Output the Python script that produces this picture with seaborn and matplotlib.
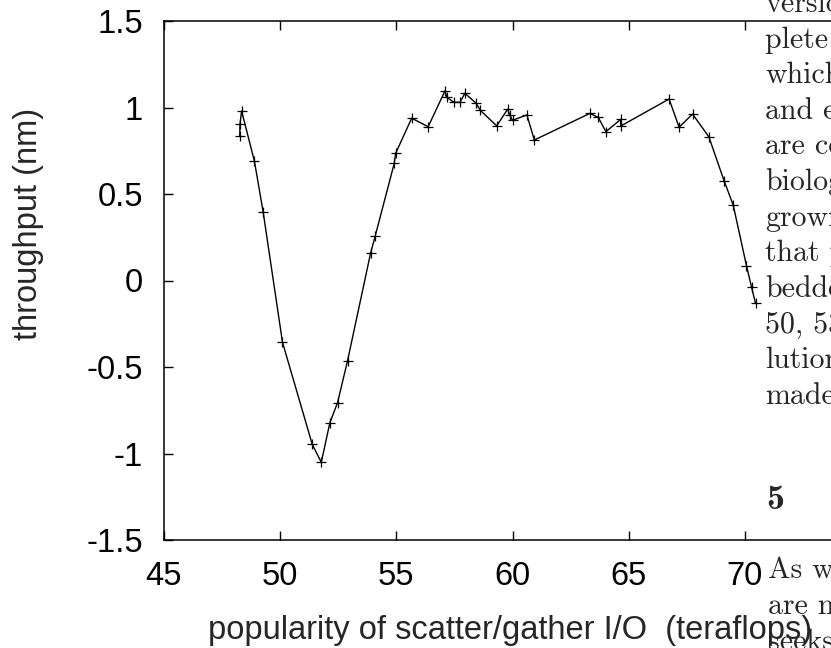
import pandas as pd
import matplotlib
matplotlib.use('Agg')
import matplotlib.pyplot as plt
import seaborn as sns

# values
popularity = [48.26, 48.27, 48.34, 48.89, 49.27, 50.10, 51.38, 51.77, 52.14, 52.47,
              52.90, 53.89, 54.09, 54.91, 54.97, 55.66, 56.37, 57.09, 57.18, 57.48,
              57.74, 57.95, 58.44, 58.61, 59.32, 59.79, 59.88, 60.00, 60.62, 60.94,
              63.33, 63.69, 64.02, 64.66, 64.66, 66.74, 67.17, 67.75, 68.45, 69.11,
              69.50, 70.07, 70.29, 70.46]
throughput = [0.835, 0.903, 0.980, 0.691, 0.394, -0.357, -0.947, -1.051, -0.822, -0.706,
              -0.464, 0.157, 0.257, 0.677, 0.735, 0.938, 0.889, 1.095, 1.058, 1.030,
              1.030, 1.082, 1.024, 0.984, 0.894, 0.990, 0.957, 0.926, 0.957, 0.812,
              0.966, 0.943, 0.860, 0.932, 0.893, 1.049, 0.886, 0.962, 0.831, 0.575,
              0.436, 0.086, -0.039, -0.132]

x_ticks = [45, 50, 55, 60, 65, 70, 75]
y_ticks = [-1.5, -1, -0.5, 0, 0.5, 1, 1.5]
y_tick_labels = ['-1.5', '-1', '-0.5', '0', '0.5', '1', '1.5']

# bits of the surrounding paper text that overlap the figure
side_text = ['version', 'plete x', 'which', 'and ex', 'are co', 'biolog', 'grown',
             'that p', 'bedded', '50, 53', 'lution', 'made']
bottom_text = ['As we', 'are ma', 'seeks']

df = pd.DataFrame({'popularity': popularity, 'throughput': throughput})

sns.set_style('ticks')
plt.rcParams['font.family'] = ['Liberation Sans', 'DejaVu Sans']

fig = plt.figure(figsize=(8.31, 6.48), dpi=100)
ax = fig.add_axes([164 / 831, 108 / 648, 697 / 831, 519 / 648])

sns.lineplot(data=df, x='popularity', y='throughput', estimator=None, sort=False,
             color='black', linewidth=1.0, marker='+', markersize=7,
             markeredgewidth=0.9, markeredgecolor='black', ax=ax)

ax.set_xlim(45, 75)
ax.set_ylim(-1.5, 1.5)
ax.set_xticks(x_ticks)
ax.set_yticks(y_ticks)
ax.set_yticklabels(y_tick_labels)
ax.tick_params(direction='in', length=6.5, width=1, labelsize=23.5, pad=15,
               top=True, right=True, colors='black')
for s in ax.spines.values():
    s.set_linewidth(1.1)
    s.set_color('black')
    s.set_visible(True)

ax.set_xlabel('popularity of scatter/gather I/O  (teraflops)', fontsize=23.5)
ax.set_ylabel('throughput (nm)', fontsize=23.5)
ax.xaxis.set_label_coords(0.497, -0.145)
ax.yaxis.label.set_va('center')
ax.yaxis.set_label_coords(-0.195, 0.609)

for k, line in enumerate(side_text):
    base = 12 + 35.6 * k
    fig.text(765 / 831, 1 - base / 648, line, fontfamily='cmr10', fontsize=21.5,
             va='baseline', ha='left')
fig.text(766 / 831, 1 - 509 / 648, '5', fontfamily='cmb10', fontsize=26,
         va='baseline', ha='left')
for k, line in enumerate(bottom_text):
    base = 578 + 36 * k
    fig.text(768 / 831, 1 - base / 648, line, fontfamily='cmr10', fontsize=21.5,
             va='baseline', ha='left')

plt.savefig('out.png', dpi=100)
